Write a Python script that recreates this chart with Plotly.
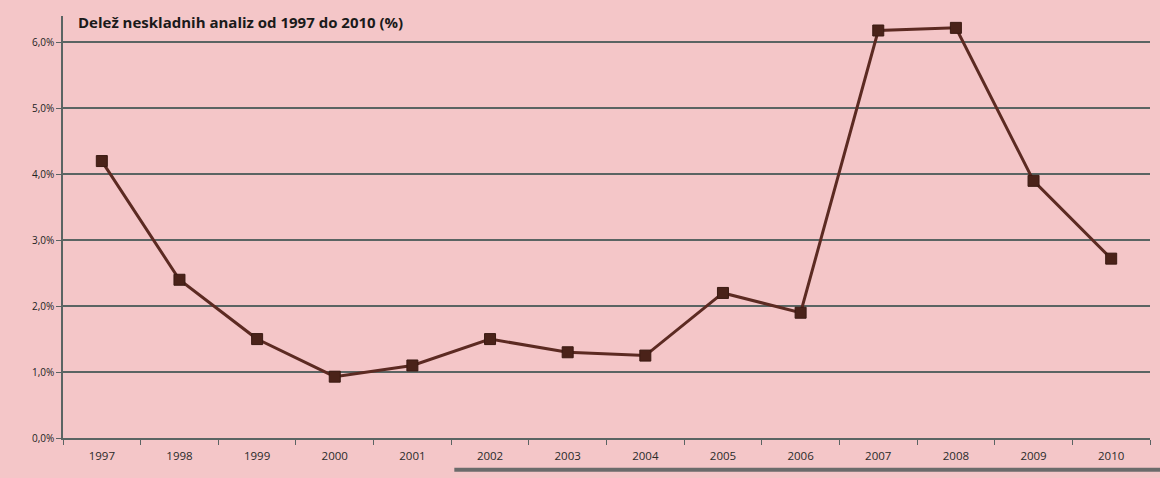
import plotly.graph_objects as go

years = ["1997", "1998", "1999", "2000", "2001", "2002", "2003",
         "2004", "2005", "2006", "2007", "2008", "2009", "2010"]
share = [4.2, 2.4, 1.5, 0.93, 1.1, 1.5, 1.3, 1.25, 2.2, 1.9, 6.18, 6.22, 3.9, 2.72]
y_ticks = [0, 1, 2, 3, 4, 5, 6]
y_tick_labels = ["0,0%", "1,0%", "2,0%", "3,0%", "4,0%", "5,0%", "6,0%"]
title_text = "Delež neskladnih analiz od 1997 do 2010 (%)"

bg = "#f4c6c8"
grid = "#5a6463"

fig = go.Figure()
fig.add_trace(go.Scatter(
    x=years, y=share, mode="lines+markers",
    line=dict(color="#5c2a22", width=3),
    marker=dict(symbol="square", size=11, color="#4a2219",
                line=dict(color="#3a1a12", width=1)),
    hoverinfo="x+y", showlegend=False,
))

fig.update_layout(
    width=1160, height=478,
    paper_bgcolor=bg, plot_bgcolor=bg,
    margin=dict(l=63, r=10, t=16, b=40),
    font=dict(family="Open Sans", color="#2a2a2a"),
    xaxis=dict(
        type="category", range=[-0.5, 13.5],
        showgrid=False, showline=True, linecolor=grid, linewidth=1.5,
        ticks="outside", tickson="boundaries", ticklen=5, tickcolor=grid,
        tickfont=dict(size=11.5, color="#2a2a2a"), ticklabelstandoff=6,
    ),
    yaxis=dict(
        range=[0, 6.4], tickvals=y_ticks, ticktext=y_tick_labels,
        showgrid=True, gridcolor=grid, gridwidth=1.5,
        showline=True, linecolor=grid, linewidth=1.5,
        ticks="outside", ticklen=5, tickcolor=grid,
        tickfont=dict(size=10, color="#222222"), zeroline=False,
    ),
    annotations=[dict(
        text="<b>" + title_text + "</b>", xref="paper", yref="paper",
        x=0.012, y=0.985, xanchor="left", yanchor="middle", showarrow=False,
        font=dict(size=15, color="#1a1a1a", family="Open Sans"),
    )],
    shapes=[dict(type="line", xref="paper", yref="paper",
                 x0=0.36, x1=1.01, y0=-0.075, y1=-0.075,
                 line=dict(color="#6b6b6b", width=4))],
)

fig.write_html("out.html", config={"displayModeBar": False},
               post_script="document.body.style.margin='0';")
